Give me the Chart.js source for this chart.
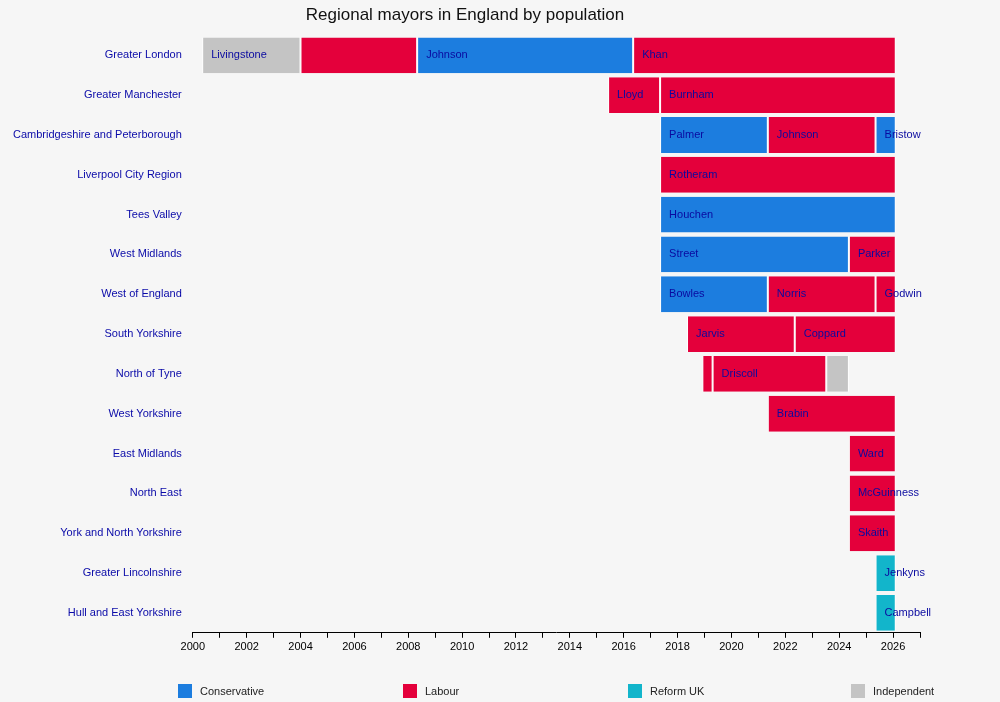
<!DOCTYPE html>
<html>
<head>
<meta charset="utf-8">
<script src="https://cdn.jsdelivr.net/npm/chart.js@4"></script>
<style>
  body { margin: 0; background: #f6f6f6; font-family: "Liberation Sans", Arial, sans-serif; }
  .wrap { position: relative; width: 1000px; height: 702px; }
  .legend { position: absolute; top: 684px; font-size: 11px; color: #222; }
  .legend span.sw { display: inline-block; width: 14px; height: 14px; vertical-align: -3px; margin-right: 8px; }
</style>
</head>
<body>
<div class="wrap">
  <canvas id="c" width="1000" height="702"></canvas>
  <div id="legend"></div>
</div>
<script>
// Regions, top to bottom.
const regions = ['Greater London', 'Greater Manchester', 'Cambridgeshire and Peterborough',
  'Liverpool City Region', 'Tees Valley', 'West Midlands', 'West of England', 'South Yorkshire',
  'North of Tyne', 'West Yorkshire', 'East Midlands', 'North East', 'York and North Yorkshire',
  'Greater Lincolnshire', 'Hull and East Yorkshire'];

// One entry per term: region index, mayor, party, start, end (decimal years).
const termRegion = [0, 0, 0, 0, 1, 1, 2, 2, 2, 3, 4, 5, 5, 6, 6, 6, 7, 7, 8, 8, 8, 9, 10, 11, 12, 13, 14];
const termName = ['Livingstone', '', 'Johnson', 'Khan', 'Lloyd', 'Burnham', 'Palmer', 'Johnson', 'Bristow',
  'Rotheram', 'Houchen', 'Street', 'Parker', 'Bowles', 'Norris', 'Godwin', 'Jarvis', 'Coppard',
  '', 'Driscoll', '', 'Brabin', 'Ward', 'McGuinness', 'Skaith', 'Jenkyns', 'Campbell'];
const termParty = ['Independent', 'Labour', 'Conservative', 'Labour', 'Labour', 'Labour',
  'Conservative', 'Labour', 'Conservative', 'Labour', 'Conservative', 'Conservative', 'Labour',
  'Conservative', 'Labour', 'Labour', 'Labour', 'Labour', 'Labour', 'Labour', 'Independent',
  'Labour', 'Labour', 'Labour', 'Labour', 'Reform UK', 'Reform UK'];
const termStart = [2000.35, 2004.0, 2008.33, 2016.35, 2015.42, 2017.35, 2017.35, 2021.35, 2025.35,
  2017.35, 2017.35, 2017.35, 2024.36, 2017.35, 2021.35, 2025.35, 2018.35, 2022.35,
  2018.92, 2019.3, 2023.52, 2021.35, 2024.36, 2024.36, 2024.36, 2025.35, 2025.35];
const termEnd = [2004.0, 2008.33, 2016.35, 2026.1, 2017.35, 2026.1, 2021.35, 2025.35, 2026.1,
  2026.1, 2026.1, 2024.36, 2026.1, 2021.35, 2025.35, 2026.1, 2022.35, 2026.1,
  2019.3, 2023.52, 2024.36, 2026.1, 2026.1, 2026.1, 2026.1, 2026.1, 2026.1];

const parties = ['Conservative', 'Labour', 'Reform UK', 'Independent'];
const partyColor = { 'Conservative': '#1c7ddf', 'Labour': '#e4003b', 'Reform UK': '#12b5cb', 'Independent': '#c4c4c4' };
const legendX = [178, 403, 628, 851];

const datasets = termName.map((name, i) => ({
  label: name,
  data: regions.map((_, r) => (r === termRegion[i] ? [termStart[i], termEnd[i]] : null)),
  backgroundColor: partyColor[termParty[i]],
  borderColor: '#ffffff',
  borderWidth: { left: 1, right: 1 },
  borderSkipped: false,
  grouped: false,
  barPercentage: 0.9,
  categoryPercentage: 1,
}));

const barLabels = {
  id: 'barLabels',
  afterDatasetsDraw(chart) {
    const ctx = chart.ctx;
    ctx.save();
    ctx.font = '11px "Liberation Sans", Arial, sans-serif';
    ctx.fillStyle = '#0a0aa0';
    ctx.textBaseline = 'middle';
    chart.data.datasets.forEach((ds, i) => {
      if (!ds.label) return;
      const el = chart.getDatasetMeta(i).data[termRegion[i]];
      ctx.fillText(ds.label, Math.min(el.base, el.x) + 9, el.y);
    });
    ctx.restore();
  }
};

new Chart(document.getElementById('c'), {
  type: 'bar',
  data: { labels: regions, datasets },
  plugins: [barLabels],
  options: {
    indexAxis: 'y',
    responsive: false,
    animation: false,
    layout: { padding: { top: 0, right: 80, bottom: 45, left: 10 } },
    plugins: {
      legend: { display: false },
      tooltip: { enabled: false },
      title: {
        display: true, text: 'Regional mayors in England by population', color: '#111',
        font: { size: 17, family: '"Liberation Sans", Arial, sans-serif', weight: 'normal' },
        padding: { top: 5, bottom: 10 },
      },
    },
    scales: {
      x: {
        min: 2000, max: 2027,
        border: { color: '#000' },
        grid: { drawOnChartArea: false, color: '#000', tickLength: 5 },
        ticks: {
          stepSize: 1, autoSkip: false, maxRotation: 0, color: '#000',
          font: { size: 11, family: '"Liberation Sans", Arial, sans-serif' },
          callback: v => (v % 2 === 0 ? String(v) : ''),
        },
      },
      y: {
        border: { display: false },
        grid: { display: false },
        ticks: { color: '#0a0aa8', font: { size: 11, family: '"Liberation Sans", Arial, sans-serif' } },
      },
    },
  },
});

const leg = document.getElementById('legend');
parties.forEach((p, i) => {
  const d = document.createElement('div');
  d.className = 'legend';
  d.style.left = legendX[i] + 'px';
  d.innerHTML = `<span class="sw" style="background:${partyColor[p]}"></span>${p}`;
  leg.appendChild(d);
});
</script>
</body>
</html>
